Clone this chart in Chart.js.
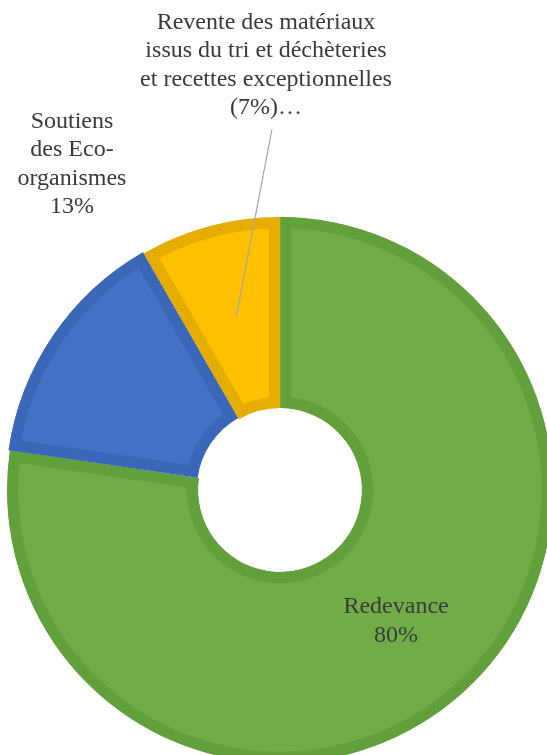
<!DOCTYPE html>
<html>
<head>
<meta charset="utf-8">
<script src="https://cdn.jsdelivr.net/npm/chart.js@4"></script>
<style>
  html, body { margin: 0; padding: 0; background: #fff; overflow: hidden; }
  #graf { position: absolute; left: 0; top: 0; }
</style>
</head>
<body>
<canvas id="graf" width="560" height="780"></canvas>
<script>
// donnees du graphique (parts mesurees sur l'image)
const categories = ['Redevance', 'Soutiens des Eco-organismes', 'Revente des matériaux issus du tri et déchèteries et recettes exceptionnelles'];
const valeurs = [77.3, 14.4, 8.3];
const etiquettes = [
  ['Redevance', '80%'],
  ['Soutiens', 'des Eco-', 'organismes', '13%'],
  ['Revente des matériaux', 'issus du tri et déchèteries', 'et recettes exceptionnelles', '(7%)…']
];

const couleurs = ['#70ad47', '#4472c4', '#ffc000'];
const bordures = ['#62a03c', '#3b67b9', '#e5ad00'];

// etiquettes dessinees a la main (comme Excel)
const pluginEtiquettes = {
  id: 'etiquettes',
  afterDatasetsDraw(chart) {
    const ctx = chart.ctx;
    const arcs = chart.getDatasetMeta(0).data;
    const lh = 28.5;

    ctx.save();
    ctx.font = '24px "Liberation Serif", "Times New Roman", serif';
    ctx.fillStyle = '#3a3a3a';
    ctx.textAlign = 'center';
    ctx.textBaseline = 'middle';

    function ecrire(lignes, x, yCentre) {
      const y0 = yCentre - (lignes.length - 1) * lh / 2;
      lignes.forEach((l, i) => ctx.fillText(l, x, y0 + i * lh));
    }

    // Redevance : dans la part
    const p0 = arcs[0].tooltipPosition();
    ecrire(etiquettes[0], p0.x, p0.y - 3);

    // Soutiens : a gauche, hors du graphique
    ecrire(etiquettes[1], 72, 164);

    // Revente : en haut avec une ligne de rappel
    ecrire(etiquettes[2], 266, 65);
    const p2 = arcs[2].tooltipPosition();
    ctx.strokeStyle = '#a6a6a6';
    ctx.lineWidth = 1.2;
    ctx.beginPath();
    ctx.moveTo(272, 129);
    ctx.lineTo(p2.x + 2, p2.y - 2);
    ctx.stroke();

    ctx.restore();
  }
};

const ctx = document.getElementById('graf').getContext('2d');
const graf = new Chart(ctx, {
  type: 'doughnut',
  data: {
    labels: categories,
    datasets: [{
      data: valeurs,
      backgroundColor: couleurs,
      borderColor: bordures,
      borderWidth: 11,
      borderAlign: 'inner',
      borderJoinStyle: 'miter',
      offset: [0, 6, 0]
    }]
  },
  options: {
    responsive: false,
    animation: false,
    devicePixelRatio: 1,
    radius: 273,
    cutout: '30%',
    layout: { padding: { top: 217, bottom: 17, left: 0, right: 0 } },
    plugins: {
      legend: { display: false },
      tooltip: { enabled: false }
    }
  },
  plugins: [pluginEtiquettes]
});
</script>
</body>
</html>
